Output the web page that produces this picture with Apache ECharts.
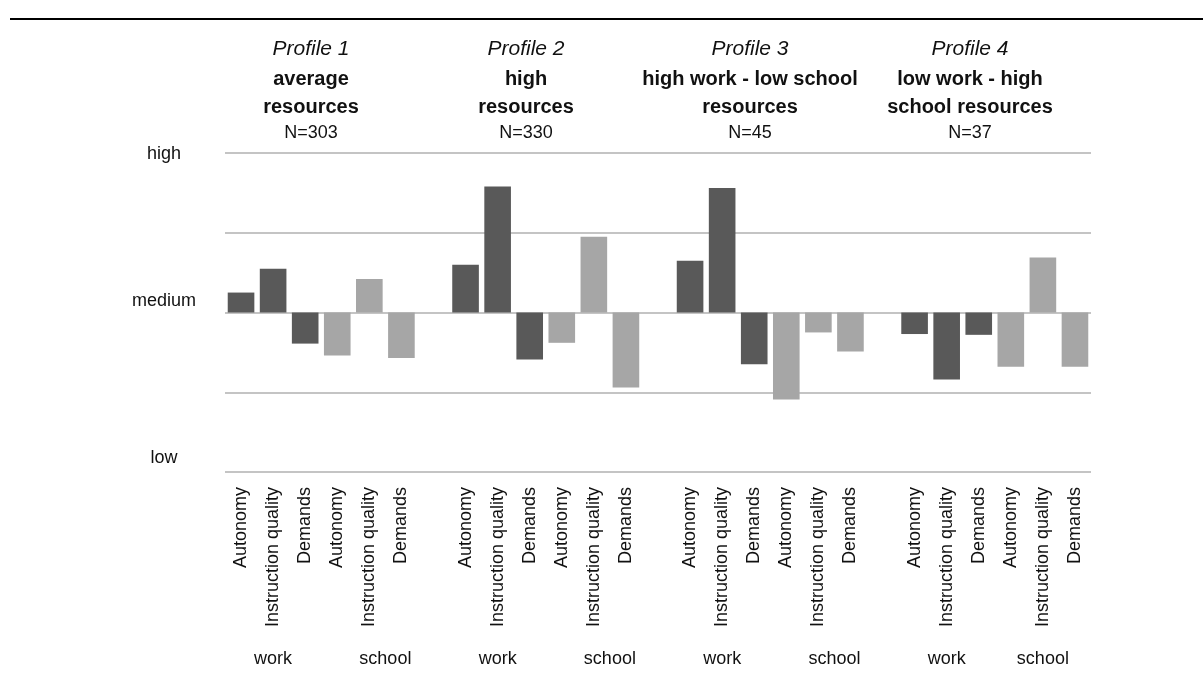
<!DOCTYPE html>
<html>
<head>
<meta charset="utf-8">
<script src="https://cdn.jsdelivr.net/npm/echarts@6/dist/echarts.min.js"></script>
<style>html,body{margin:0;padding:0;background:#fff}#c{width:1203px;height:684px}</style>
</head>
<body>
<div id="c"></div>
<script>
// ---- data ----
const profileNames = ['Profile 1', 'Profile 2', 'Profile 3', 'Profile 4'];
const profileLabels = [
  ['average', 'resources'],
  ['high', 'resources'],
  ['high work - low school', 'resources'],
  ['low work - high', 'school resources']
];
const profileN = ['N=303', 'N=330', 'N=45', 'N=37'];
const measures = ['Autonomy', 'Instruction quality', 'Demands'];
const domains = ['work', 'school'];
// values per profile: work Autonomy, work Instruction quality, work Demands, school Autonomy, school Instruction quality, school Demands
const profile1 = [0.25, 0.55, -0.39, -0.54, 0.42, -0.57];
const profile2 = [0.60, 1.58, -0.59, -0.38, 0.95, -0.94];
const profile3 = [0.65, 1.56, -0.65, -1.09, -0.25, -0.49];
const profile4 = [-0.27, -0.84, -0.28, -0.68, 0.69, -0.68];
const yTickLabels = { '2': 'high', '0': 'medium', '-2': 'low' };

// ---- layout ----
const FONT = "'Liberation Sans', Arial, sans-serif";
const titleCenters = [311, 526, 750, 970];
const titleLineY = [49, 79, 107, 133];
const groupLabelPos = [[3, 10], [17, 24], [31, 38], [45, 51]]; // positions on half-slot axis

const profileValues = [profile1, profile2, profile3, profile4];
const categories = [], workData = [], schoolData = [];
profileValues.forEach((vals, pi) => {
  if (pi > 0) { categories.push(''); workData.push(null); schoolData.push(null); }
  domains.forEach((d, di) => {
    measures.forEach((m, mi) => {
      const v = vals[di * 3 + mi];
      categories.push(m);
      workData.push(di === 0 ? v : null);
      schoolData.push(di === 1 ? v : null);
    });
  });
});
const halfSlots = new Array(categories.length * 2 + 1).fill('');
groupLabelPos.forEach(pair => { halfSlots[pair[0]] = domains[0]; halfSlots[pair[1]] = domains[1]; });

const graphics = [{
  type: 'line', shape: { x1: 10, y1: 19, x2: 1203, y2: 19 },
  style: { stroke: '#000', lineWidth: 2 }, silent: true
}];
function addText(x, y, text, font) {
  graphics.push({
    type: 'text', x: x, y: y, silent: true,
    style: { text: text, font: font, fill: '#111', align: 'center', verticalAlign: 'middle',
             textAlign: 'center', textVerticalAlign: 'middle' }
  });
}
profileNames.forEach((name, i) => {
  const cx = titleCenters[i];
  addText(cx, titleLineY[0], name, 'italic 21px ' + FONT);
  addText(cx, titleLineY[1], profileLabels[i][0], 'bold 20px ' + FONT);
  addText(cx, titleLineY[2], profileLabels[i][1], 'bold 20px ' + FONT);
  addText(cx, titleLineY[3], profileN[i], '18px ' + FONT);
});

const chart = echarts.init(document.getElementById('c'), null, { renderer: 'canvas' });
chart.setOption({
  animation: false,
  backgroundColor: '#fff',
  grid: { left: 225, right: 112, top: 153, bottom: 212, containLabel: false },
  xAxis: [{
    type: 'category', data: categories, position: 'bottom',
    axisLine: { show: false, onZero: false }, axisTick: { show: false }, splitLine: { show: false },
    axisLabel: { interval: 0, rotate: 90, margin: 15, color: '#111', fontFamily: FONT, fontSize: 18 }
  }, {
    type: 'category', data: halfSlots, position: 'bottom', boundaryGap: false,
    axisLine: { show: false, onZero: false }, axisTick: { show: false }, splitLine: { show: false },
    axisLabel: { interval: 0, margin: 178, color: '#111', fontFamily: FONT, fontSize: 18 }
  }],
  yAxis: {
    type: 'value', min: -2, max: 2, interval: 1,
    axisLine: { show: false }, axisTick: { show: false },
    splitLine: { show: true, lineStyle: { color: '#c4c4c4', width: 2 } },
    axisLabel: {
      margin: 61, align: 'center', color: '#111', fontFamily: FONT, fontSize: 18,
      formatter: v => {
        const t = yTickLabels[String(v)];
        if (!t) return '';
        return '{' + (v === 2 ? 'h' : v === 0 ? 'm' : 'l') + '|' + t + '}';
      },
      rich: {
        h: { fontFamily: FONT, fontSize: 18, color: '#111', padding: [2, 0, 0, 0] },
        m: { fontFamily: FONT, fontSize: 18, color: '#111', padding: [0, 0, 22, 0] },
        l: { fontFamily: FONT, fontSize: 18, color: '#111', padding: [0, 0, 28, 0] }
      }
    }
  },
  series: [{
    name: 'work', type: 'bar', data: workData, barWidth: '83%', barGap: '-100%',
    itemStyle: { color: '#595959' }
  }, {
    name: 'school', type: 'bar', data: schoolData, barWidth: '83%', barGap: '-100%',
    itemStyle: { color: '#a6a6a6' }
  }],
  graphic: graphics
});
</script>
</body>
</html>
